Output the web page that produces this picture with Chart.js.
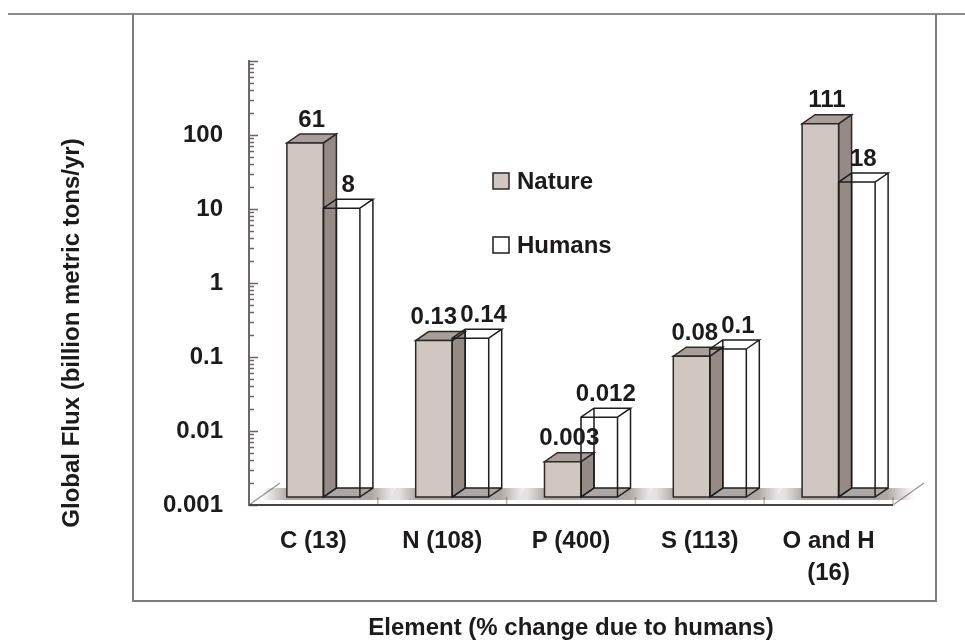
<!DOCTYPE html>
<html>
<head>
<meta charset="utf-8">
<script src="https://cdn.jsdelivr.net/npm/chart.js@4.4.1/dist/chart.umd.min.js"></script>
<style>
  html, body { margin: 0; padding: 0; background: #fff; }
  #wrap { position: relative; width: 965px; height: 643px; }
  #topLine { position: absolute; left: 8px; top: 13px; width: 957px; height: 2px; background: #8c8c8c; }
  #frame { position: absolute; left: 132px; top: 14px; width: 801px; height: 586px; border: 2px solid #7d7d7d; border-top: none; }
  canvas { position: absolute; left: 0; top: 0; }
</style>
</head>
<body>
<div id="wrap">
  <div id="topLine"></div>
  <div id="frame"></div>
  <canvas id="myChart" width="965" height="643"></canvas>
</div>
<script>
// elements, with % change due to humans
const categories = ["C (13)", "N (108)", "P (400)", "S (113)", ["O and H", "(16)"]];
// global flux, billion metric tons / yr
const natureFlux = [61, 0.13, 0.003, 0.08, 111];
const humanFlux = [8, 0.14, 0.012, 0.1, 18];
const yTickLabels = [0.001, 0.01, 0.1, 1, 10, 100];

const FONT = "'Liberation Sans', Arial, sans-serif";
const INK = "#1c1a1a";

// fake 3d offsets (px)
const FRONT = { x: 10, y: -8 };
const DEPTH = { x: 13, y: -9 };
const FLOOR = { x: 31, y: -22 };

function boxOf(bar) {
  const p = bar.getProps(["x", "y", "base", "width"], true);
  return {
    l: p.x - p.width / 2 + FRONT.x,
    r: p.x + p.width / 2 + FRONT.x,
    t: p.y + FRONT.y,
    b: p.base + FRONT.y,
  };
}

function poly(ctx, pts) {
  ctx.beginPath();
  ctx.moveTo(pts[0][0], pts[0][1]);
  for (let i = 1; i < pts.length; i++) ctx.lineTo(pts[i][0], pts[i][1]);
  ctx.closePath();
}

function drawSolid(ctx, b, ds) {
  const dx = DEPTH.x, dy = DEPTH.y;
  ctx.lineWidth = 1.5;
  ctx.strokeStyle = ds.borderColor;
  // side
  poly(ctx, [[b.r, b.t], [b.r + dx, b.t + dy], [b.r + dx, b.b + dy], [b.r, b.b]]);
  ctx.fillStyle = "#968a86";
  ctx.fill();
  ctx.stroke();
  // top
  poly(ctx, [[b.l, b.t], [b.r, b.t], [b.r + dx, b.t + dy], [b.l + dx, b.t + dy]]);
  ctx.fillStyle = "#a89e9a";
  ctx.fill();
  ctx.stroke();
  // front
  poly(ctx, [[b.l, b.t], [b.r, b.t], [b.r, b.b], [b.l, b.b]]);
  ctx.fillStyle = ds.backgroundColor;
  ctx.fill();
  ctx.stroke();
}

function drawWire(ctx, b, ds) {
  const dx = DEPTH.x, dy = DEPTH.y;
  ctx.lineWidth = 1.5;
  ctx.strokeStyle = ds.borderColor;
  ctx.beginPath();
  // front
  ctx.rect(b.l, b.t, b.r - b.l, b.b - b.t);
  // top
  ctx.moveTo(b.l, b.t); ctx.lineTo(b.l + dx, b.t + dy); ctx.lineTo(b.r + dx, b.t + dy); ctx.lineTo(b.r, b.t);
  // right side
  ctx.moveTo(b.r + dx, b.t + dy); ctx.lineTo(b.r + dx, b.b + dy); ctx.lineTo(b.r, b.b);
  // back edges seen through
  ctx.moveTo(b.l + dx, b.t + dy); ctx.lineTo(b.l + dx, b.b + dy); ctx.lineTo(b.r + dx, b.b + dy);
  ctx.moveTo(b.l, b.b); ctx.lineTo(b.l + dx, b.b + dy);
  ctx.stroke();
}

const threeD = {
  id: "threeD",
  beforeDatasetsDraw(chart) {
    const ctx = chart.ctx;
    const area = chart.chartArea;
    const xs = chart.scales.x;
    const ys = chart.scales.y;
    ctx.save();

    // minor / major ticks on the inside of the y axis
    ctx.strokeStyle = "#6e6664";
    ctx.lineWidth = 1.3;
    ctx.beginPath();
    for (let e = -3; e <= 3; e++) {
      for (let m = 1; m <= 9; m++) {
        const v = m * Math.pow(10, e);
        if (v > ys.max * 1.0001) continue;
        const py = Math.round(ys.getPixelForValue(v)) + 0.5;
        ctx.moveTo(area.left, py);
        ctx.lineTo(area.left + (m === 1 ? 9 : 5), py);
      }
    }
    ctx.stroke();

    // floor
    const fy = area.bottom;
    ctx.strokeStyle = "#a39894";
    ctx.lineWidth = 1.5;
    ctx.beginPath();
    ctx.moveTo(area.left, fy); ctx.lineTo(area.left + FLOOR.x, fy + FLOOR.y);
    ctx.moveTo(area.right, fy); ctx.lineTo(area.right + FLOOR.x, fy + FLOOR.y);
    ctx.stroke();
    ctx.strokeStyle = "#bdb5b2";
    ctx.beginPath();
    for (let i = 0; i < categories.length; i++) {
      const bx = i === categories.length - 1 ? area.right : (xs.getPixelForTick(i) + xs.getPixelForTick(i + 1)) / 2;
      ctx.moveTo(bx, fy); ctx.lineTo(bx, fy - 8);
    }
    ctx.stroke();
    ctx.strokeStyle = "#4a4444";
    ctx.lineWidth = 2;
    ctx.beginPath();
    ctx.moveTo(area.left, fy); ctx.lineTo(area.right, fy);
    ctx.stroke();

    const nature = chart.getDatasetMeta(0).data;
    const humans = chart.getDatasetMeta(1).data;
    const dsN = chart.data.datasets[0];
    const dsH = chart.data.datasets[1];

    // soft shadows on the floor
    nature.forEach((bar, i) => {
      const n = boxOf(bar), h = boxOf(humans[i]);
      const L = n.l - 26, R = h.r + DEPTH.x + 26;
      const g = ctx.createLinearGradient(L, 0, R, 0);
      g.addColorStop(0, "rgba(70,60,60,0)");
      g.addColorStop(0.2, "rgba(70,60,60,0.45)");
      g.addColorStop(0.8, "rgba(70,60,60,0.45)");
      g.addColorStop(1, "rgba(70,60,60,0)");
      ctx.fillStyle = g;
      poly(ctx, [[L, n.b + 3], [R, n.b + 3], [R + 6, n.b + DEPTH.y], [L + 6, n.b + DEPTH.y]]);
      ctx.fill();
    });

    // bars
    nature.forEach((bar, i) => {
      drawSolid(ctx, boxOf(bar), dsN);
      drawWire(ctx, boxOf(humans[i]), dsH);
    });

    // value labels
    ctx.font = "bold 24px " + FONT;
    ctx.fillStyle = INK;
    ctx.textAlign = "center";
    ctx.textBaseline = "bottom";
    nature.forEach((bar, i) => {
      const pair = [[boxOf(bar), natureFlux[i]], [boxOf(humans[i]), humanFlux[i]]].map(([b, v]) => {
        const text = String(v);
        return { text, w: ctx.measureText(text).width, cx: (b.l + b.r) / 2 + DEPTH.x / 2, y: b.t + DEPTH.y - 2 };
      });
      const [a, c] = pair;
      const over = (a.w + c.w) / 2 + 3 - (c.cx - a.cx);
      if (Math.abs(a.y - c.y) < 22 && over > 0) {
        a.cx -= over / 2;
        c.cx += over / 2;
      }
      pair.forEach((l) => ctx.fillText(l.text, l.cx, l.y));
    });

    // legend inside the plot
    ctx.textAlign = "left";
    ctx.textBaseline = "middle";
    chart.data.datasets.forEach((ds, i) => {
      const lx = area.left + 244;
      const ly = area.top + 112 + i * 64;
      ctx.fillStyle = ds.backgroundColor;
      ctx.fillRect(lx, ly, 16, 16);
      ctx.strokeStyle = ds.borderColor;
      ctx.lineWidth = 1.5;
      ctx.strokeRect(lx, ly, 16, 16);
      ctx.fillStyle = INK;
      ctx.font = "bold 24px " + FONT;
      ctx.fillText(ds.label, lx + 24, ly + 9);
    });

    ctx.restore();
    return false;
  },
  afterDraw(chart) {
    // y title, centred on the frame rather than the axis
    const ctx = chart.ctx;
    ctx.save();
    ctx.translate(72, 333);
    ctx.rotate(-Math.PI / 2);
    ctx.font = "bold 24px " + FONT;
    ctx.fillStyle = INK;
    ctx.textAlign = "center";
    ctx.textBaseline = "middle";
    ctx.fillText("Global Flux (billion metric tons/yr)", 0, 0);
    ctx.restore();
  },
};

new Chart(document.getElementById("myChart"), {
  type: "bar",
  data: {
    labels: categories,
    datasets: [
      { label: "Nature", data: natureFlux, backgroundColor: "#d0c7c3", borderColor: "#2e2828" },
      { label: "Humans", data: humanFlux, backgroundColor: "#ffffff", borderColor: "#1e1c1c" },
    ],
  },
  options: {
    responsive: false,
    animation: false,
    categoryPercentage: 0.567,
    barPercentage: 1,
    layout: { padding: { top: 61, right: 72, left: 0, bottom: 0 } },
    plugins: { legend: { display: false }, tooltip: { enabled: false } },
    scales: {
      x: {
        grid: { display: false, drawTicks: false },
        border: { display: false },
        ticks: {
          color: INK,
          padding: 20,
          maxRotation: 0,
          autoSkip: false,
          font: { family: FONT, size: 24, weight: "bold", lineHeight: 1.35 },
        },
        title: {
          display: true,
          text: "Element (% change due to humans)",
          color: INK,
          font: { family: FONT, size: 24, weight: "bold", lineHeight: 1.0 },
          padding: { top: 0, bottom: 3 },
        },
        afterFit(scale) { scale.height = 138; },
      },
      y: {
        type: "logarithmic",
        min: 0.001,
        max: 1000,
        grid: { display: false, drawTicks: false },
        border: { display: true, color: "#6e6664", width: 2 },
        ticks: {
          autoSkip: false,
          padding: 26,
          color: INK,
          font: { family: FONT, size: 24, weight: "bold" },
          callback(v) {
            const t = yTickLabels.find((t) => Math.abs(Math.log10(t) - Math.log10(v)) < 1e-6);
            return t === undefined ? "" : String(t);
          },
        },
        afterFit(scale) { scale.width = 249; },
      },
    },
  },
  plugins: [threeD],
});
</script>
</body>
</html>
